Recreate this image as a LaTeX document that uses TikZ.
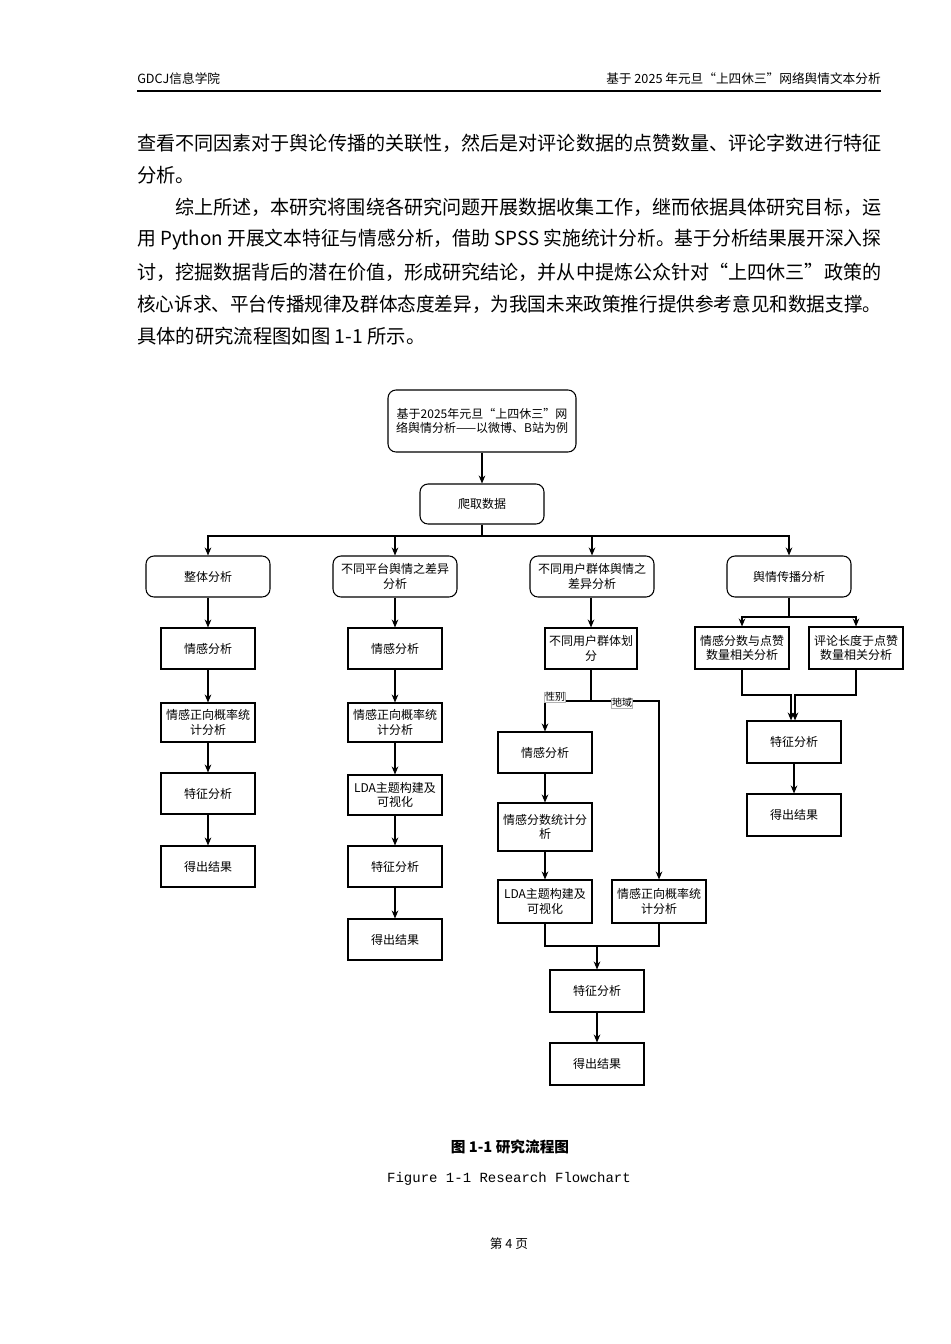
\documentclass[tikz,border=0pt]{standalone}
\usepackage{graphicx}
\usepackage{fontspec}
\setmainfont{Liberation Serif}
\newfontfamily\cjk{Noto Sans CJK SC}
\newfontfamily\mono{Liberation Mono}
\usetikzlibrary{arrows.meta}
\newcommand{\bx}[7][box]{\node[#1,minimum width={(#5-#3)*0.75pt},minimum height={(#6-#4)*0.75pt}] (#2) at ({(#3+#5)/2},{(#4+#6)/2}) {#7};}
\newcommand{\pline}[4]{\node[anchor=west,inner sep=0pt,font=\cjk\fontsize{14.5pt}{17pt}\selectfont] at (#1,#2) {\resizebox{#3pt}{\height}{#4}};}
\begin{document}
\begin{tikzpicture}[x=0.75pt,y=-0.75pt,
  box/.style={draw,line width=0.8pt,inner sep=1pt,align=center,font=\cjk\fontsize{9pt}{11pt}\selectfont},
  rbox/.style={box,rounded corners=6pt},
  arr/.style={-{Stealth[length=6pt,width=5pt]},line width=0.8pt},
  ln/.style={line width=0.8pt},
  lab/.style={draw=gray!60,line width=0.3pt,fill=white,inner sep=0.5pt,font=\cjk\fontsize{7.5pt}{8pt}\selectfont}]
\useasboundingbox (0,0) rectangle (950,1344);
% header
\node[anchor=west,inner sep=0pt,font=\cjk\fontsize{9.5pt}{11pt}\selectfont] (hl) at (137,79) {GDCJ信息学院};
\node[anchor=east,inner sep=0pt,font=\cjk\fontsize{9.5pt}{11pt}\selectfont] (hr) at (881,79) {基于 2025 年元旦“上四休三”网络舆情文本分析};
\draw[line width=1.2pt] (137,91) -- (881,91);
% paragraphs
\pline{137}{143}{558}{查看不同因素对于舆论传播的关联性，然后是对评论数据的点赞数量、评论字数进行特征}
\node[anchor=west,inner sep=0pt,font=\cjk\fontsize{14.5pt}{17pt}\selectfont] at (137,175) {分析。};
\pline{175}{207}{529.5}{综上所述，本研究将围绕各研究问题开展数据收集工作，继而依据具体研究目标，运}
\pline{137}{240}{558}{用 Python 开展文本特征与情感分析，借助 SPSS 实施统计分析。基于分析结果展开深入探}
\pline{137}{272}{558}{讨，挖掘数据背后的潜在价值，形成研究结论，并从中提炼公众针对“上四休三”政策的}
\pline{137}{304}{558}{核心诉求、平台传播规律及群体态度差异，为我国未来政策推行提供参考意见和数据支撑。}
\node[anchor=west,inner sep=0pt,font=\cjk\fontsize{14.5pt}{17pt}\selectfont] at (137,336) {具体的研究流程图如图 1-1 所示。};
% flowchart
\bx[rbox]{top}{388}{390}{576}{452}{基于2025年元旦“上四休三”网\\络舆情分析——以微博、B站为例}
\bx[rbox]{crawl}{420}{484}{544}{524}{爬取数据}
\bx[rbox]{t1}{146}{556}{270}{597}{整体分析}
\bx[rbox]{t2}{333}{556}{457}{597}{不同平台舆情之差异\\分析}
\bx[rbox]{t3}{530}{556}{654}{597}{不同用户群体舆情之\\差异分析}
\bx[rbox]{t4}{727}{556}{851}{597}{舆情传播分析}
\bx{a1}{161}{628}{255}{669}{情感分析}
\bx{a2}{161}{703}{255}{742}{情感正向概率统\\计分析}
\bx{a3}{161}{773}{255}{814}{特征分析}
\bx{a4}{161}{846}{255}{887}{得出结果}
\bx{b1}{348}{628}{442}{669}{情感分析}
\bx{b2}{348}{703}{442}{742}{情感正向概率统\\计分析}
\bx{b3}{348}{775}{442}{815}{LDA主题构建及\\可视化}
\bx{b4}{348}{846}{442}{887}{特征分析}
\bx{b5}{348}{919}{442}{960}{得出结果}
\bx{u}{545}{628}{637}{669}{不同用户群体划\\分}
\bx{c1}{498}{732}{592}{773}{情感分析}
\bx{c2}{498}{803}{592}{851}{情感分数统计分\\析}
\bx{c3}{498}{880}{592}{923}{LDA主题构建及\\可视化}
\bx{cr}{612}{880}{706}{923}{情感正向概率统\\计分析}
\bx{c4}{550}{970}{644}{1012}{特征分析}
\bx{c5}{550}{1043}{644}{1085}{得出结果}
\bx{d1}{695}{627}{789}{669}{情感分数与点赞\\数量相关分析}
\bx{d2}{809}{627}{903}{669}{评论长度于点赞\\数量相关分析}
\bx{d3}{747}{721}{841}{763}{特征分析}
\bx{d4}{747}{794}{841}{836}{得出结果}
% connectors
\draw[arr] (top) -- (crawl);
\coordinate (j1) at (482,536);
\draw[ln] (crawl.south) -- (j1);
\foreach \t in {t1,t2,t3,t4} \draw[arr] (j1) -| (\t.north);
\draw[arr] (t1) -- (a1); \draw[arr] (a1) -- (a2); \draw[arr] (a2) -- (a3); \draw[arr] (a3) -- (a4);
\draw[arr] (t2) -- (b1); \draw[arr] (b1) -- (b2); \draw[arr] (b2) -- (b3); \draw[arr] (b3) -- (b4); \draw[arr] (b4) -- (b5);
\draw[arr] (t3.south -| u.north) -- (u.north);
\coordinate (j3) at (591,701);
\draw[ln] (u.south) -- (j3);
\draw[arr] (j3) -| (c1.north);
\draw[arr] (j3) -| (cr.north);
\node[lab] (sex) at (555,697) {性别};
\node[lab] (reg) at (622,703) {地域};
\draw[arr] (c1) -- (c2); \draw[arr] (c2) -- (c3);
\coordinate (m3) at (597,946);
\draw[ln] (c3.south) |- (m3) -| (cr.south);
\draw[arr] (m3) -- (c4.north -| m3);
\draw[arr] (c4) -- (c5);
\coordinate (j4) at (789,617);
\draw[ln] (t4.south) -- (j4);
\draw[arr] (j4) -| (d1.north);
\draw[arr] (j4) -| (d2.north);
\coordinate (k1) at (791,695);
\coordinate (k2) at (795,695);
\draw[arr] (d1.south) |- (k1) -- (d3.north -| k1);
\draw[arr] (d2.south) |- (k2) -- (d3.north -| k2);
\draw[arr] (d3) -- (d4);
% captions
\node[font=\cjk\bfseries\fontsize{11pt}{13pt}\selectfont] (cap) at (510,1147) {图 1-1 研究流程图};
\node[font=\mono\fontsize{10.5pt}{12pt}\selectfont] (capen) at (509,1179) {Figure 1-1 Research Flowchart};
\node[font=\cjk\fontsize{9.5pt}{11pt}\selectfont] (pg) at (509,1244) {第 4 页};
\end{tikzpicture}
\end{document}
